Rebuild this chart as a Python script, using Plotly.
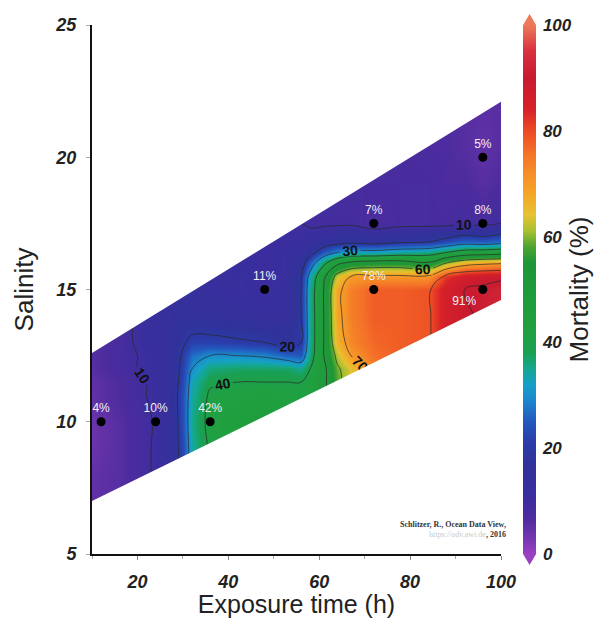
import numpy as np
import plotly.graph_objects as go

# ---- measured points ----
exposure_pts = [12, 24, 36, 48, 72, 72, 96, 96, 96]
salinity_pts = [10, 10, 10, 15, 17.5, 15, 20, 17.5, 15]
mortality_pts = [4, 10, 42, 11, 7, 78, 5, 8, 91]
label_pos = ["top center"] * 8 + ["bottom left"]

# ---- gridded mortality field ----
exposure_grid = [10, 16, 22, 27, 30, 32, 36, 42, 48, 53, 56, 58, 61, 64, 67, 72, 78, 84, 88, 92, 96, 100]
salinity_grid = [6.5, 8, 9, 10, 11, 11.5, 12, 12.5, 13, 14, 15, 15.5, 16, 16.4, 16.8, 17.5, 19, 20.5, 22.5]
mortality_grid = [
    [5, 6, 9, 14, 22, 34, 41, 44, 45, 44, 42, 43, 48, 58, 64, 74, 78, 79, 86, 89, 90, 91],
    [5, 6, 9, 14, 22, 34, 41, 44, 45, 44, 42, 43, 48, 58, 64, 74, 78, 79, 86, 89, 90, 91],
    [4, 6, 9, 14, 23, 34, 41, 44, 45, 44, 42, 43, 48, 58, 64, 74, 78, 79, 86, 89, 90, 91],
    [4, 6, 9, 13, 24, 35, 42, 44, 45, 44, 42, 43, 48, 58, 64, 74, 78, 79, 86, 89, 90, 91],
    [5, 7, 10, 14, 24, 34, 41, 42, 43, 42, 41, 42, 48, 58, 64, 74, 78, 79, 86, 89, 90, 91],
    [5, 7, 10, 14, 23, 33, 39, 40, 40, 40, 40, 42, 48, 58, 64, 74, 78, 79, 86, 89, 90, 91],
    [6, 8, 11, 14, 22, 30, 36, 37, 37, 37, 35, 40, 48, 59, 64, 74, 78, 79, 86, 89, 90, 91],
    [6, 8, 11, 14, 21, 27, 30, 30, 29, 26, 25, 36, 50, 62, 70, 76, 78, 79, 86, 89, 90, 91],
    [6, 8, 12, 14, 19, 22, 22, 21, 20, 17, 20, 35, 50, 66, 73, 77, 78, 79, 86, 89, 90, 91],
    [6, 8, 12, 14, 15, 15, 15, 14, 13, 13, 20, 35, 50, 68, 74, 78, 78, 79, 86, 89, 91, 92],
    [6, 8, 12, 14, 14, 13, 13, 12, 11, 13, 20, 35, 50, 68, 74, 78, 78, 79, 86, 90, 91, 92],
    [6, 8, 12, 13, 13, 13, 12, 12, 11, 12, 19, 33, 48, 63, 70, 71, 71, 71, 82, 87, 88, 89],
    [6, 8, 12, 13, 13, 13, 12, 11, 11, 12, 16, 25, 38, 48, 52, 54, 54, 51, 60, 66, 68, 69],
    [6, 8, 12, 13, 13, 13, 12, 11, 11, 12, 13, 17, 25, 30, 33, 33, 35, 36, 40, 44, 45, 46],
    [6, 8, 12, 13, 13, 13, 12, 11, 11, 11, 11, 13, 15, 17, 18, 17, 19, 20, 23, 26, 25, 27],
    [6, 8, 12, 13, 13, 13, 12, 11, 11, 10, 10, 9, 9, 9, 9, 7, 8, 8, 8, 9, 8, 10],
    [6, 8, 12, 13, 13, 13, 12, 11, 11, 10, 10, 9, 8, 8, 8, 8, 8, 8, 7, 7, 6, 7],
    [6, 8, 12, 13, 13, 13, 12, 11, 11, 10, 10, 9, 8, 8, 8, 8, 8, 7, 7, 6, 5, 6],
    [6, 8, 12, 13, 13, 13, 12, 11, 11, 10, 10, 9, 8, 8, 8, 8, 8, 7, 7, 6, 6, 6],
]

# ---- sampled domain (parallelogram) ----
domain_x = [10, 100]
domain_top = [12.6, 22.1]
domain_bottom = [7.0, 14.6]

x_range = [10, 100]
y_range = [5, 25]
x_ticks = [20, 40, 60, 80, 100]
y_ticks = [5, 10, 15, 20, 25]
cbar_ticks = [0, 20, 40, 60, 80, 100]

odv_scale = [
    [0.00, "#9c40c2"], [0.03, "#7536ae"], [0.07, "#4c2c9e"], [0.11, "#3a2e9e"],
    [0.17, "#303299"], [0.21, "#2b3ba8"], [0.25, "#2458be"], [0.29, "#1c86cc"],
    [0.32, "#16a0c8"], [0.35, "#14a890"], [0.38, "#1aa052"], [0.42, "#20a040"],
    [0.55, "#1e9636"], [0.58, "#4aa432"], [0.61, "#a6c030"], [0.64, "#e6c232"],
    [0.68, "#f5a626"], [0.72, "#f58e28"], [0.76, "#f47028"], [0.80, "#ec4a24"],
    [0.84, "#d82228"], [0.90, "#c81a30"], [0.95, "#d8303f"], [1.00, "#ec7a5a"],
]

FONT = "Liberation Sans, Arial, sans-serif"
z = np.array(mortality_grid, dtype=float)

# plot-area geometry (px) used to place colorbar end caps in paper units
ML, MR, MT, MB, W, H = 92, 102, 25, 64, 603, 618
PW, PH = W - ML - MR, H - MT - MB
CB_X, CB_T = 1.054, 13
cb_x0 = CB_X
cb_x1 = CB_X + CB_T / PW
cb_xm = (cb_x0 + cb_x1) / 2
cap = 11 / PH

fig = go.Figure()
fig.add_trace(go.Heatmap(
    x=exposure_grid, y=salinity_grid, z=z, zmin=0, zmax=100, zsmooth="best",
    colorscale=odv_scale, hoverinfo="skip",
    colorbar=dict(
        x=CB_X, xanchor="left", y=0.5, yanchor="middle", len=1.0, lenmode="fraction",
        thickness=CB_T, xpad=0, ypad=0, outlinewidth=0, tickvals=cbar_ticks,
        ticks="outside", ticklen=4, tickcolor="rgba(0,0,0,0)",
        tickfont=dict(family=FONT, size=17, color="#222", weight="bold", style="italic"),
        title=dict(text="Mortality (%)", side="right",
                   font=dict(family=FONT, size=26, color="#222")),
    ),
))
fig.add_trace(go.Contour(
    x=exposure_grid, y=salinity_grid, z=z, showscale=False, hoverinfo="skip",
    contours=dict(start=10, end=90, size=10, coloring="none", showlabels=True,
                  labelfont=dict(family=FONT, size=14, color="#111", weight="bold")),
    line=dict(color="#2a2a2a", width=0.7, smoothing=1.2),
))

# white masks outside the sampled domain
fig.add_trace(go.Scatter(
    x=[domain_x[0], domain_x[1], domain_x[1], domain_x[0]],
    y=[domain_top[0], domain_top[1], y_range[1] + 1, y_range[1] + 1],
    fill="toself", fillcolor="white", mode="lines", line=dict(width=0, color="white"),
    hoverinfo="skip", showlegend=False,
))
fig.add_trace(go.Scatter(
    x=[domain_x[0], domain_x[1], domain_x[1], domain_x[0]],
    y=[domain_bottom[0], domain_bottom[1], y_range[0] - 1, y_range[0] - 1],
    fill="toself", fillcolor="white", mode="lines", line=dict(width=0, color="white"),
    hoverinfo="skip", showlegend=False,
))

fig.add_trace(go.Scatter(
    x=exposure_pts, y=salinity_pts, mode="markers+text",
    marker=dict(color="black", size=9),
    text=[f"{m}%" for m in mortality_pts], textposition=label_pos,
    textfont=dict(family=FONT, size=12, color="#f4eef4"),
    hoverinfo="skip", showlegend=False, cliponaxis=False,
))

fig.add_annotation(
    xref="paper", yref="paper", x=1.016, y=0.068, xanchor="right", yanchor="top",
    text="<b>Schlitzer, R., Ocean Data View,</b><br><span style='color:#c8c8c8'>https://odv.awi.de</span><b>, 2016</b>",
    showarrow=False, align="right",
    font=dict(family="Liberation Serif, Times New Roman, serif", size=8, color="#333"),
)

# colorbar end caps (triangles)
fig.add_shape(type="path", xref="paper", yref="paper", line=dict(width=0),
              fillcolor=odv_scale[-1][1],
              path=f"M {cb_x0},1 L {cb_x1},1 L {cb_xm},{1 + cap} Z")
fig.add_shape(type="path", xref="paper", yref="paper", line=dict(width=0),
              fillcolor=odv_scale[0][1],
              path=f"M {cb_x0},0 L {cb_x1},0 L {cb_xm},{-cap} Z")

tickfont = dict(family=FONT, size=18, color="#222", weight="bold", style="italic")
fig.update_layout(
    width=W, height=H, margin=dict(l=ML, r=MR, t=MT, b=MB, autoexpand=False),
    paper_bgcolor="white", plot_bgcolor="white", showlegend=False,
    xaxis=dict(range=x_range, tickvals=x_ticks, ticks="outside", ticklen=4, tickcolor="#888",
               showline=True, linecolor="#111", linewidth=2, showgrid=False, zeroline=False,
               tickfont=tickfont, ticklabelstandoff=6, automargin=False,
               minor=dict(dtick=10, ticks="outside", ticklen=3, tickcolor="#aaa"),
               title=dict(text="Exposure time (h)", standoff=4,
                          font=dict(family=FONT, size=25, color="#222"))),
    yaxis=dict(range=y_range, tickvals=y_ticks, ticks="outside", ticklen=4, tickcolor="#aaa",
               showline=True, linecolor="#111", linewidth=2, showgrid=False, zeroline=False,
               tickfont=tickfont, ticklabelstandoff=6, automargin=False,
               title=dict(text="Salinity", standoff=14,
                          font=dict(family=FONT, size=26, color="#222"))),
)

fig.write_html(
    "out.html",
    config={"displayModeBar": False},
    post_script="document.body.style.margin='0px';document.body.style.padding='0px';"
                "document.documentElement.style.overflow='hidden';",
)
